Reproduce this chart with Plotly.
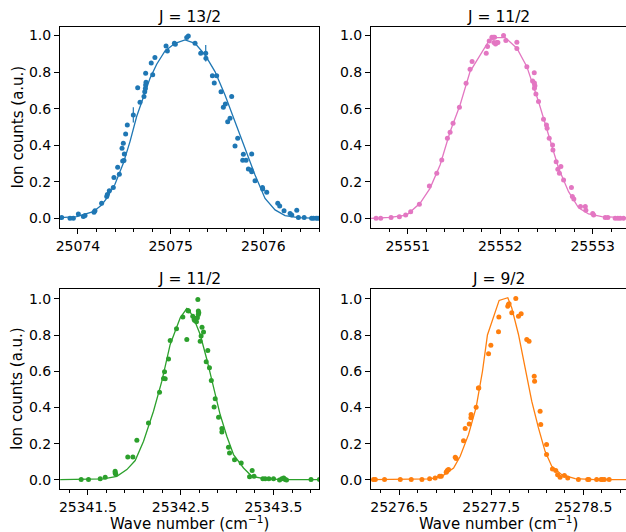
import plotly.graph_objects as go

# ---------------- data ----------------
titles = ["J = 13/2", "J = 11/2", "J = 11/2", "J = 9/2"]
colors = ["#1f77b4", "#e377c2", "#2ca02c", "#ff7f0e"]
y_label = "Ion counts (a.u.)"
x_label = "Wave number (cm<sup>−1</sup>)"

# Panel 1: J = 13/2
j132_wn = [25073.824, 25073.914, 25073.95, 25074.004, 25074.058, 25074.076, 25074.173, 25074.183,
           25074.255, 25074.31, 25074.317, 25074.338, 25074.381, 25074.388, 25074.428, 25074.446,
           25074.475, 25074.482, 25074.489, 25074.496, 25074.50, 25074.514, 25074.532, 25074.597,
           25074.644, 25074.669, 25074.712, 25074.72, 25074.727, 25074.73, 25074.734, 25074.73,
           25074.79, 25074.806, 25074.83, 25074.95, 25074.964, 25075.04, 25075.05, 25075.173,
           25075.19, 25075.263, 25075.324, 25075.378, 25075.38, 25075.45, 25075.47, 25075.496,
           25075.543, 25075.568, 25075.59, 25075.615, 25075.64, 25075.658, 25075.694, 25075.723,
           25075.777, 25075.784, 25075.813, 25075.838, 25075.867, 25075.874, 25075.874, 25075.91,
           25075.99, 25075.993, 25076.036, 25076.155, 25076.176, 25076.223, 25076.288, 25076.306,
           25076.36, 25076.378, 25076.44, 25076.52, 25076.54, 25076.57, 25076.59]
j132_counts = [0.004, 0.0, 0.0, 0.024, 0.010, 0.015, 0.033, 0.042,
               0.082, 0.119, 0.131, 0.151, 0.168, 0.223, 0.279, 0.241,
               0.383, 0.314, 0.411, 0.316, 0.352, 0.462, 0.511, 0.566,
               0.715, 0.635, 0.666, 0.693, 0.710, 0.730, 0.745, 0.794,
               0.85, 0.785, 0.88, 0.943, 0.916, 0.958, 0.953, 0.989,
               0.998, 0.958, 0.903, 0.903, 0.876, 0.78, 0.74, 0.78,
               0.693, 0.608, 0.626, 0.529, 0.547, 0.666, 0.396, 0.438,
               0.318, 0.35, 0.318, 0.27, 0.265, 0.255, 0.352, 0.206,
               0.168, 0.161, 0.142, 0.082, 0.068, 0.042, 0.027, 0.018,
               0.044, 0.005, 0.004, 0.0, 0.0, 0.0, 0.0]
j132_err = [0.0] * 23 + [0.042] + [0.0] * 19 + [0.045] + [0.0] * 35
j132_fit_wn = [25073.806, 25073.986, 25074.165, 25074.255, 25074.309, 25074.399, 25074.489,
               25074.561, 25074.633, 25074.705, 25074.777, 25074.849, 25074.939, 25075.047,
               25075.155, 25075.263, 25075.371, 25075.478, 25075.586, 25075.694, 25075.802,
               25075.91, 25076.018, 25076.126, 25076.234, 25076.378, 25076.61]
j132_fit_counts = [0.004, 0.009, 0.036, 0.073, 0.109, 0.186, 0.301,
                   0.42, 0.557, 0.666, 0.766, 0.843, 0.916, 0.958,
                   0.976, 0.958, 0.894, 0.803, 0.675, 0.529, 0.383,
                   0.237, 0.109, 0.046, 0.015, 0.004, 0.0]

# Panel 2: J = 11/2 (upper)
j112a_wn = [25550.658, 25550.708, 25550.82, 25550.91, 25550.978, 25551.032, 25551.126, 25551.234,
            25551.314, 25551.368, 25551.429, 25551.458, 25551.49, 25551.559, 25551.631, 25551.674,
            25551.696, 25551.849, 25551.863, 25551.881, 25551.91, 25551.928, 25551.939, 25551.932,
            25551.95, 25551.964, 25551.975, 25552.036, 25552.061, 25552.18, 25552.18, 25552.288,
            25552.35, 25552.368, 25552.37, 25552.375, 25552.37, 25552.386, 25552.414, 25552.468,
            25552.50, 25552.507, 25552.53, 25552.566, 25552.57, 25552.605, 25552.623, 25552.64,
            25552.656, 25552.685, 25552.77, 25552.78, 25552.796, 25552.868, 25552.92, 25552.926,
            25553.0, 25553.01, 25553.135, 25553.164, 25553.243, 25553.272, 25553.297, 25553.333]
j112a_counts = [0.0, 0.0, 0.005, 0.009, 0.018, 0.036, 0.077, 0.177,
                0.246, 0.319, 0.438, 0.471, 0.52, 0.608, 0.739, 0.816,
                0.858, 0.903, 0.94, 0.971, 0.991, 0.991, 0.991, 0.962,
                0.954, 0.962, 0.962, 1.0, 0.973, 0.963, 0.929, 0.83,
                0.752, 0.797, 0.74, 0.725, 0.712, 0.681, 0.639, 0.542,
                0.511, 0.493, 0.438, 0.401, 0.374, 0.31, 0.268, 0.246,
                0.283, 0.21, 0.168, 0.119, 0.106, 0.064, 0.064, 0.044,
                0.027, 0.018, 0.005, 0.005, 0.0, 0.0, 0.0, 0.0]
j112a_fit_wn = [25550.593, 25550.809, 25550.989, 25551.133, 25551.241, 25551.35, 25551.458,
                25551.566, 25551.674, 25551.782, 25551.872, 25551.944, 25552.054, 25552.18,
                25552.288, 25552.414, 25552.523, 25552.631, 25552.739, 25552.847, 25552.955,
                25553.099, 25553.362]
j112a_fit_counts = [0.0, 0.005, 0.018, 0.082, 0.164, 0.292, 0.474,
                    0.62, 0.803, 0.894, 0.967, 0.989, 0.989, 0.931,
                    0.83, 0.639, 0.456, 0.274, 0.146, 0.058, 0.024,
                    0.009, 0.004]

# Panel 3: J = 11/2 (lower)
j112b_wn = [25341.428, 25341.507, 25341.633, 25341.687, 25341.794, 25341.794, 25341.80, 25341.93,
            25341.985, 25342.028, 25342.153, 25342.272, 25342.315, 25342.333, 25342.326, 25342.369,
            25342.387, 25342.455, 25342.523, 25342.566, 25342.577, 25342.585, 25342.63, 25342.645,
            25342.652, 25342.66, 25342.67, 25342.68, 25342.685, 25342.69, 25342.695, 25342.69,
            25342.72, 25342.71, 25342.73, 25342.746, 25342.775, 25342.792, 25342.81, 25342.83,
            25342.86, 25342.872, 25342.908, 25342.944, 25342.944, 25343.015, 25343.026, 25343.08,
            25343.152, 25343.242, 25343.27, 25343.29, 25343.385, 25343.41, 25343.45, 25343.5,
            25343.565, 25343.59, 25343.61, 25343.626, 25343.64, 25343.904, 25343.994]
j112b_counts = [0.002, 0.002, 0.006, 0.015, 0.048, 0.039, 0.033, 0.127,
                0.127, 0.219, 0.315, 0.484, 0.56, 0.558, 0.597, 0.667,
                0.77, 0.834, 0.90, 0.775, 0.936, 0.932, 0.904, 0.886,
                0.88, 0.891, 0.873, 0.895, 0.996, 0.932, 0.923, 0.913,
                0.794, 0.766, 0.843, 0.816, 0.652, 0.715, 0.619, 0.549,
                0.403, 0.448, 0.346, 0.284, 0.265, 0.18, 0.149, 0.112,
                0.094, 0.017, 0.052, 0.02, 0.006, 0.006, 0.006, 0.006,
                0.0, 0.007, 0.011, 0.002, 0.0, 0.002, 0.002]
j112b_fit_wn = [25341.202, 25341.669, 25341.812, 25341.92, 25342.01, 25342.1, 25342.207,
                25342.297, 25342.387, 25342.495, 25342.566, 25342.592, 25342.638, 25342.71,
                25342.782, 25342.853, 25342.925, 25342.997, 25343.069, 25343.177, 25343.266,
                25343.41, 25343.625, 25344.0]
j112b_fit_counts = [0.002, 0.006, 0.02, 0.057, 0.107, 0.214, 0.379,
                    0.545, 0.748, 0.895, 0.947, 0.936, 0.895, 0.803,
                    0.665, 0.508, 0.361, 0.241, 0.14, 0.066, 0.02,
                    0.006, 0.002, 0.002]

# Panel 4: J = 9/2
j92_wn = [25276.22, 25276.24, 25276.34, 25276.511, 25276.63, 25276.746, 25276.83, 25276.89,
          25276.938, 25276.956, 25277.01, 25277.017, 25277.024, 25277.035, 25277.108, 25277.118,
          25277.198, 25277.216, 25277.26, 25277.278, 25277.28, 25277.335, 25277.36, 25277.364,
          25277.47, 25277.495, 25277.578, 25277.582, 25277.679, 25277.686, 25277.693, 25277.722,
          25277.766, 25277.795, 25277.824, 25277.885, 25277.91, 25277.966, 25277.97, 25278.03,
          25278.037, 25278.1, 25278.1, 25278.164, 25278.2, 25278.22, 25278.247, 25278.294,
          25278.33, 25278.446, 25278.547, 25278.56, 25278.644, 25278.692, 25278.706, 25278.728,
          25278.78]
j92_counts = [0.002, 0.002, 0.002, 0.002, 0.002, 0.002, 0.006, 0.011,
              0.02, 0.02, 0.042, 0.048, 0.053, 0.057, 0.125, 0.118,
              0.217, 0.284, 0.309, 0.343, 0.361, 0.401, 0.508, 0.508,
              0.696, 0.744, 0.818, 0.899, 0.959, 0.969, 0.972, 0.923,
              1.002, 0.904, 0.917, 0.775, 0.766, 0.573, 0.545, 0.379,
              0.306, 0.195, 0.14, 0.061, 0.052, 0.029, 0.015, 0.024,
              0.011, 0.002, 0.002, 0.002, 0.002, 0.002, 0.002, 0.002,
              0.002]
j92_fit_wn = [25276.185, 25276.836, 25276.963, 25277.09, 25277.162, 25277.252, 25277.335,
              25277.404, 25277.458, 25277.585, 25277.679, 25277.722, 25277.795, 25277.867,
              25277.939, 25278.012, 25278.084, 25278.156, 25278.265, 25278.41, 25278.627,
              25278.963]
j92_fit_counts = [0.002, 0.006, 0.02, 0.066, 0.131, 0.25, 0.40,
                  0.60, 0.80, 0.991, 1.006, 0.95, 0.803, 0.619,
                  0.435, 0.287, 0.158, 0.076, 0.029, 0.007, 0.002,
                  0.002]

x_ranges = [[25073.806, 25076.60], [25550.603, 25553.36], [25341.20, 25343.99], [25276.193, 25278.963]]
x_tick0 = [25074, 25551, 25341.5, 25276.5]
x_tickfmt = ["d", "d", ".1f", ".1f"]
y_ranges = [[-0.053, 1.047], [-0.053, 1.047], [-0.05, 1.054], [-0.05, 1.054]]

# ---------------- figure ----------------
W, H = 626, 532
boxes = [(60, 319, 27, 228), (371, 626, 27, 228), (60, 319, 289, 489), (371, 626, 289, 489)]

series = [
    (j132_wn, j132_counts, j132_err, j132_fit_wn, j132_fit_counts),
    (j112a_wn, j112a_counts, None, j112a_fit_wn, j112a_fit_counts),
    (j112b_wn, j112b_counts, None, j112b_fit_wn, j112b_fit_counts),
    (j92_wn, j92_counts, None, j92_fit_wn, j92_fit_counts),
]

FONT = "DejaVu Sans"
fig = go.Figure()
layout = dict(width=W, height=H, margin=dict(l=0, r=0, t=0, b=0),
              paper_bgcolor="white", plot_bgcolor="white", showlegend=False,
              font=dict(family=FONT, color="black"))
annotations = []

for i, ((wn, cnt, err, fwn, fcnt), (x0, x1, y0, y1)) in enumerate(zip(series, boxes)):
    n = "" if i == 0 else str(i + 1)
    xa, ya = "x" + n, "y" + n
    c = colors[i]
    marker_trace = go.Scatter(x=wn, y=cnt, mode="markers", xaxis=xa, yaxis=ya,
                              marker=dict(color=c, size=5, line=dict(width=0)))
    if err is not None:
        marker_trace.error_y = dict(type="data", array=err, visible=True,
                                    thickness=1.2, width=0, color=c)
    fig.add_trace(marker_trace)
    fig.add_trace(go.Scatter(x=fwn, y=fcnt, mode="lines", xaxis=xa, yaxis=ya,
                             line=dict(color=c, width=1.3)))

    common = dict(showline=True, mirror=True, linecolor="black", linewidth=1,
                  ticks="outside", ticklen=5, tickwidth=1, tickcolor="black",
                  showgrid=False, zeroline=False, automargin=False,
                  tickfont=dict(family=FONT, size=14, color="black"))
    layout["xaxis" + n] = dict(common, domain=[x0 / W, x1 / W], anchor=ya,
                               range=x_ranges[i], tickmode="linear", tick0=x_tick0[i],
                               dtick=1, tickformat=x_tickfmt[i],
                               minor=dict(tickmode="linear", tick0=x_tick0[i], dtick=0.2,
                                          ticks="outside", ticklen=3, tickwidth=1,
                                          tickcolor="black", showgrid=False))
    layout["yaxis" + n] = dict(common, domain=[1 - y1 / H, 1 - y0 / H], anchor=xa,
                               range=y_ranges[i], tickmode="linear", tick0=0,
                               dtick=0.2, tickformat=".1f")

    # subplot title
    annotations.append(dict(text=titles[i], xref="paper", yref="paper",
                            x=(x0 + x1) / 2 / W, y=1 - (y0 - 10) / H,
                            xanchor="center", yanchor="middle", showarrow=False,
                            font=dict(family=FONT, size=15.5, color="black")))
    if i % 2 == 0:
        annotations.append(dict(text=y_label, xref="paper", yref="paper",
                                x=17 / W, y=1 - (y0 + y1) / 2 / H, textangle=-90,
                                xanchor="center", yanchor="middle", showarrow=False,
                                font=dict(family=FONT, size=15, color="black")))
    if i >= 2:
        annotations.append(dict(text=x_label, xref="paper", yref="paper",
                                x=(x0 + x1) / 2 / W, y=1 - 523 / H,
                                xanchor="center", yanchor="middle", showarrow=False,
                                font=dict(family=FONT, size=15, color="black")))

layout["annotations"] = annotations
fig.update_layout(**layout)
fig.write_html("out.html",
               config={"displayModeBar": False, "staticPlot": True},
               post_script="document.body.style.margin='0';document.body.style.overflow='hidden';")
